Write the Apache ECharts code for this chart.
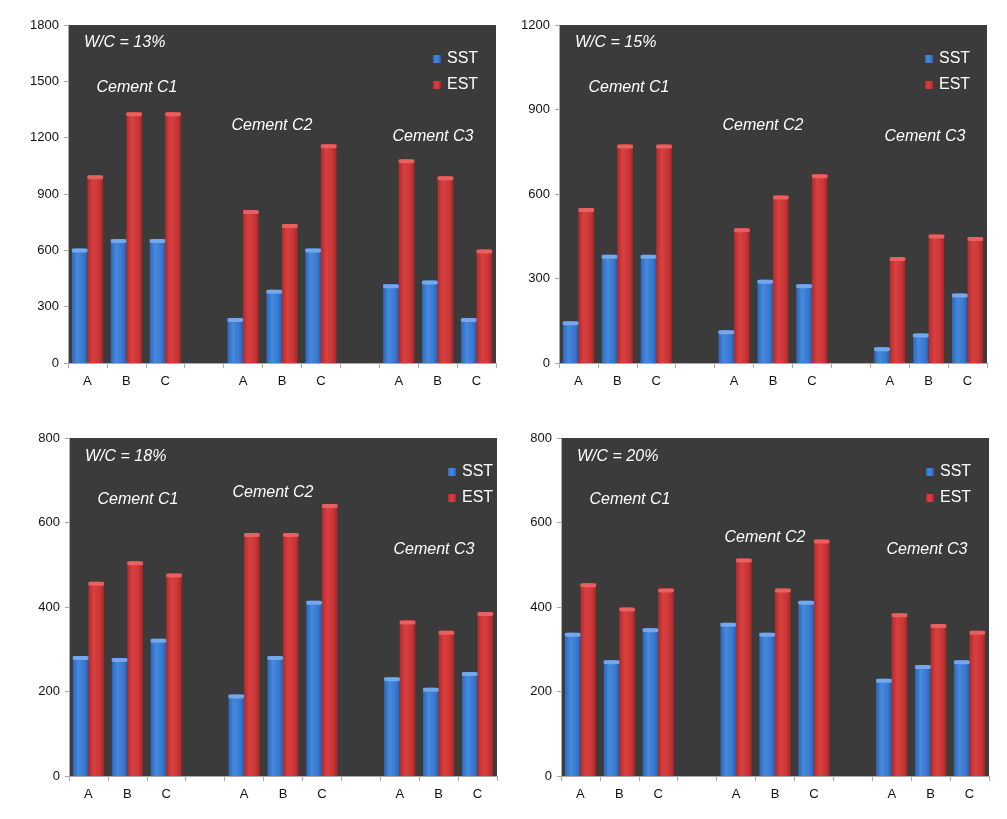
<!DOCTYPE html>
<html>
<head>
<meta charset="utf-8">
<script src="https://cdn.jsdelivr.net/npm/echarts@6/dist/echarts.min.js"></script>
<style>html,body{margin:0;padding:0;background:#fff;}#c{width:1007px;height:819px;}</style>
</head>
<body>
<div id="c"></div>
<script>
// ---- data ----
const categories = ['A','B','C','','A','B','C','','A','B','C'];
const panelTitles = ['W/C = 13%','W/C = 15%','W/C = 18%','W/C = 20%'];
const groupLabels = ['Cement C1','Cement C2','Cement C3'];
const yMax = [1800, 1200, 800, 800];
const yInterval = [300, 300, 200, 200];
const sst13 = [610, 660, 660, '-', 240, 390, 610, '-', 420, 440, 240];
const est13 = [1000, 1335, 1335, '-', 815, 740, 1165, '-', 1085, 995, 605];
const sst15 = [148, 384, 384, '-', 116, 296, 280, '-', 56, 105, 247];
const est15 = [550, 776, 776, '-', 478, 595, 670, '-', 376, 456, 447];
const sst18 = [284, 279, 325, '-', 193, 284, 415, '-', 234, 209, 246];
const est18 = [460, 508, 479, '-', 575, 575, 644, '-', 368, 344, 388];
const sst20 = [339, 274, 350, '-', 363, 339, 415, '-', 230, 263, 274];
const est20 = [456, 399, 444, '-', 515, 444, 560, '-', 385, 360, 344];
const sstData = [sst13, sst15, sst18, sst20];
const estData = [est13, est15, est18, est20];

// ---- layout ----
const grids = [
  {left: 68, top: 25, width: 428, height: 338},
  {left: 559, top: 25, width: 428, height: 338},
  {left: 69, top: 438, width: 428, height: 338},
  {left: 561, top: 438, width: 428, height: 338}
];
const titlePos = [[84,45],[575,45],[85,459],[577,459]];
const groupPos = [
  [[137,88],[272,126],[433,137]],
  [[629,88],[763,126],[925,137]],
  [[138,500],[273,493],[434,550]],
  [[630,500],[765,538],[927,550]]
];
const legendPos = [[428,46],[920,46],[443,459],[921,459]];

const FONT = 'Liberation Sans';
const BAR_W = 15.6;
const blueGrad = new echarts.graphic.LinearGradient(0,0,1,0,[
  {offset:0,color:'#2c68bb'},{offset:0.35,color:'#4589dd'},{offset:0.75,color:'#3a78cf'},{offset:1,color:'#2a5eab'}]);
const redGrad = new echarts.graphic.LinearGradient(0,0,1,0,[
  {offset:0,color:'#b52a2a'},{offset:0.35,color:'#d84040'},{offset:0.75,color:'#c93636'},{offset:1,color:'#a62626'}]);

const option = {
  animation: false,
  backgroundColor: '#ffffff',
  grid: grids.map(g => Object.assign({show: true, backgroundColor: '#3b3b3b', borderWidth: 0}, g)),
  legend: legendPos.map((p, i) => ({
    left: p[0], top: p[1], orient: 'vertical', itemWidth: 8, itemHeight: 8, itemGap: 10,
    icon: 'rect', data: ['SST','EST'],
    textStyle: {color: '#ffffff', fontSize: 16, fontFamily: FONT, padding: [0,0,0,1]}
  })),
  xAxis: grids.map((g, i) => ({
    type: 'category', gridIndex: i, data: categories, boundaryGap: true,
    axisLine: {show: true, lineStyle: {color: '#aaaaaa', width: 1}},
    axisTick: {show: true, interval: 0, length: 5, lineStyle: {color: '#aaaaaa'}},
    axisLabel: {interval: 0, color: '#111', fontSize: 13, fontFamily: FONT, margin: 12},
    splitLine: {show: false}
  })),
  yAxis: grids.map((g, i) => ({
    type: 'value', gridIndex: i, min: 0, max: yMax[i], interval: yInterval[i],
    axisLine: {show: true, lineStyle: {color: '#aaaaaa', width: 1}},
    axisTick: {show: true, length: 4, lineStyle: {color: '#aaaaaa'}},
    axisLabel: {color: '#111', fontSize: 13, fontFamily: FONT, margin: 9, formatter: v => String(v)},
    splitLine: {show: false}
  })),
  series: [],
  graphic: []
};

for (let i = 0; i < 4; i++) {
  option.series.push({
    name: 'SST', type: 'bar', xAxisIndex: i, yAxisIndex: i, data: sstData[i],
    barGap: '0%', barCategoryGap: '20%', itemStyle: {color: blueGrad}, z: 2
  });
  option.series.push({
    name: 'EST', type: 'bar', xAxisIndex: i, yAxisIndex: i, data: estData[i],
    barGap: '0%', barCategoryGap: '20%', itemStyle: {color: redGrad}, z: 2
  });
  // top highlight caps
  option.series.push({
    type: 'pictorialBar', xAxisIndex: i, yAxisIndex: i, data: sstData[i],
    symbol: 'roundRect', symbolSize: [BAR_W, 4], symbolPosition: 'end', symbolOffset: ['-50%', 0],
    itemStyle: {color: '#74a8ec'}, z: 3, silent: true
  });
  option.series.push({
    type: 'pictorialBar', xAxisIndex: i, yAxisIndex: i, data: estData[i],
    symbol: 'roundRect', symbolSize: [BAR_W, 4], symbolPosition: 'end', symbolOffset: ['50%', 0],
    itemStyle: {color: '#e96060'}, z: 3, silent: true
  });

  option.graphic.push({
    type: 'text', left: titlePos[i][0], top: titlePos[i][1] - 10, z: 10,
    style: {text: panelTitles[i], fill: '#ffffff', fontSize: 16, fontStyle: 'italic', fontFamily: FONT}
  });
  groupLabels.forEach((t, j) => {
    option.graphic.push({
      type: 'text', x: groupPos[i][j][0], y: groupPos[i][j][1], z: 10,
      style: {text: t, fill: '#ffffff', fontSize: 16, fontStyle: 'italic', fontFamily: FONT,
              align: 'center', verticalAlign: 'middle'}
    });
  });
}

const chart = echarts.init(document.getElementById('c'), null, {renderer: 'canvas'});
chart.setOption(option);
</script>
</body>
</html>
